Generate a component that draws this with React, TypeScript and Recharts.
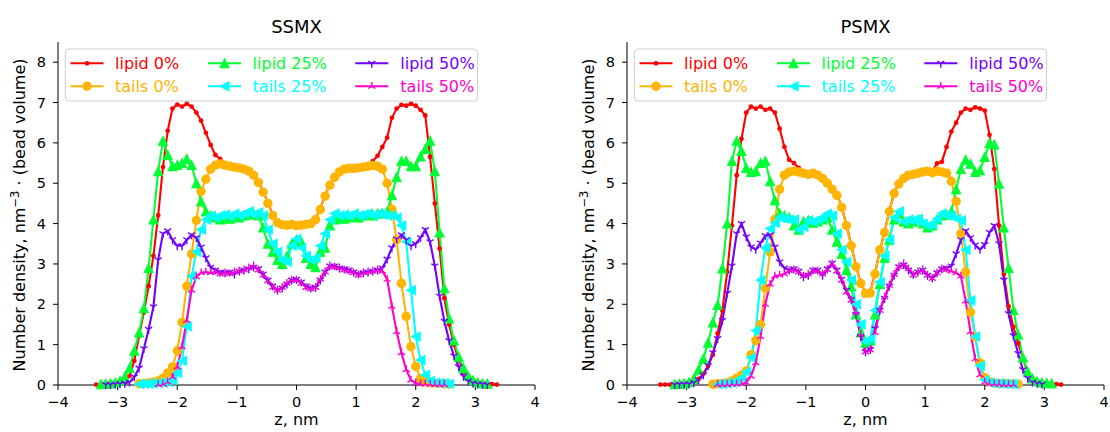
import React from 'react';
import { LineChart, Line, XAxis, YAxis } from 'recharts';

const _ = null;

// bin centres along the membrane normal, nm
const z = [
  -3.44, -3.36, -3.28, -3.2, -3.12, -3.04, -2.96, -2.88,
  -2.8, -2.72, -2.64, -2.56, -2.48, -2.4, -2.32, -2.24,
  -2.16, -2.08, -2, -1.92, -1.84, -1.76, -1.68, -1.6,
  -1.52, -1.44, -1.36, -1.28, -1.2, -1.12, -1.04, -0.96,
  -0.88, -0.8, -0.72, -0.64, -0.56, -0.48, -0.4, -0.32,
  -0.24, -0.16, -0.08, 0, 0.08, 0.16, 0.24, 0.32,
  0.4, 0.48, 0.56, 0.64, 0.72, 0.8, 0.88, 0.96,
  1.04, 1.12, 1.2, 1.28, 1.36, 1.44, 1.52, 1.6,
  1.68, 1.76, 1.84, 1.92, 2, 2.08, 2.16, 2.24,
  2.32, 2.4, 2.48, 2.56, 2.64, 2.72, 2.8, 2.88,
  2.96, 3.04, 3.12, 3.2, 3.28, 3.36, 3.44,
];

const xTicks = [-4, -3, -2, -1, 0, 1, 2, 3, 4];
const yTicks = [0, 1, 2, 3, 4, 5, 6, 7, 8];
const titles = ['SSMX', 'PSMX'];
const seriesNames = ['lipid 0%', 'tails 0%', 'lipid 25%', 'tails 25%', 'lipid 50%', 'tails 50%'];

// ---- SSMX ----
const ssLipid0 = [
  _, 0.01, 0.01, 0.02, 0.03, 0.04, 0.07, 0.12,
  0.22, 0.6, 1.22, 1.8, 2.45, 3.2, 4.2, 5.4,
  6.3, 6.85, 6.95, 6.9, 6.97, 6.9, 6.75, 6.55,
  6.25, 5.95, 5.7, 5.6, 5.5, 5.45, 5.42, 5.4,
  5.37, 5.3, 5.22, 5.05, 4.8, 4.52, 4.22, 4.03,
  3.98, 3.95, 3.97, 3.96, 3.95, 3.97, 4.02, 4.12,
  4.37, 4.7, 4.97, 5.17, 5.3, 5.36, 5.38, 5.4,
  5.4, 5.42, 5.45, 5.55, 5.68, 5.9, 6.13, 6.62,
  6.85, 6.94, 6.92, 6.97, 6.92, 6.82, 6.68, 5.65,
  4.5, 3.38, 2.15, 1.5, 1.0, 0.62, 0.34, 0.2,
  0.11, 0.06, 0.04, 0.03, 0.02, 0.01, _,
];
const ssTails0 = [
  _, _, _, _, _, _, _, _,
  _, _, 0.03, 0.04, 0.05, 0.07, 0.1, 0.17,
  0.3, 0.45, 0.85, 1.55, 2.45, 3.25, 4.08, 4.8,
  5.1, 5.35, 5.45, 5.48, 5.45, 5.42, 5.4, 5.38,
  5.35, 5.3, 5.2, 5.02, 4.78, 4.5, 4.2, 4.02,
  3.97, 3.96, 3.98, 3.95, 3.96, 3.98, 4.0, 4.1,
  4.35, 4.68, 4.95, 5.15, 5.28, 5.35, 5.37, 5.37,
  5.38, 5.4, 5.42, 5.44, 5.42, 5.35, 5.0, 4.35,
  3.6, 2.52, 1.7, 0.95, 0.46, 0.16, 0.08, 0.06,
  0.05, 0.04, 0.03, 0.02, _, _, _, _,
  _, _, _, _, _, _, _,
];
const ssLipid25 = [
  _, _, 0.02, 0.03, 0.04, 0.06, 0.1, 0.2,
  0.42, 0.85, 1.3, 1.9, 2.9, 4.1, 5.3, 6.05,
  5.7, 5.42, 5.45, 5.5, 5.6, 5.45, 5.0, 4.55,
  4.3, 4.2, 4.15, 4.1, 4.15, 4.12, 4.18, 4.15,
  4.2, 4.22, 4.25, 4.2, 3.9, 3.5, 3.3, 3.1,
  3.0, 3.2, 3.5, 3.6, 3.55, 3.15, 3.0, 2.92,
  3.3, 3.4, 3.95, 4.1, 4.15, 4.12, 4.15, 4.18,
  4.15, 4.2, 4.22, 4.2, 4.25, 4.25, 4.3, 4.7,
  5.15, 5.55, 5.55, 5.42, 5.42, 5.66, 5.85, 6.05,
  5.3, 3.78, 2.4, 1.65, 1.1, 0.7, 0.42, 0.22,
  0.12, 0.06, 0.04, 0.03, _, _, _,
];
const ssTails25 = [
  _, _, _, _, _, _, _, _,
  _, _, 0.02, 0.03, 0.03, 0.04, 0.05, 0.06,
  0.08, 0.12, 0.3, 0.6, 1.45, 2.7, 3.3, 3.85,
  4.1, 4.2, 4.15, 4.2, 4.22, 4.18, 4.25, 4.2,
  4.25, 4.3, 4.22, 4.28, 4.2, 3.85, 3.5, 3.3,
  3.1, 3.05, 3.45, 3.62, 3.4, 3.2, 3.1, 3.15,
  3.45, 3.75, 4.1, 4.25, 4.2, 4.22, 4.2, 4.25,
  4.2, 4.22, 4.25, 4.2, 4.25, 4.22, 4.2, 4.2,
  4.15, 3.95, 3.55, 2.35, 1.2, 0.62, 0.25, 0.1,
  0.06, 0.05, 0.04, 0.03, _, _, _, _,
  _, _, _, _, _, _, _,
];
const ssLipid50 = [
  _, _, _, 0.01, 0.01, 0.02, 0.03, 0.04,
  0.07, 0.2, 0.42, 0.9, 1.38, 1.94, 3.1, 3.75,
  3.82, 3.6, 3.45, 3.45, 3.6, 3.72, 3.65, 3.42,
  3.15, 2.92, 2.85, 2.8, 2.78, 2.8, 2.75, 2.82,
  2.85, 2.88, 2.92, 2.88, 2.75, 2.6, 2.45, 2.35,
  2.4, 2.5, 2.6, 2.62, 2.55, 2.45, 2.4, 2.42,
  2.6, 2.8, 2.95, 2.95, 2.9, 2.88, 2.85, 2.8,
  2.75, 2.78, 2.8, 2.82, 2.85, 2.9, 3.12, 3.4,
  3.62, 3.72, 3.6, 3.45, 3.5, 3.65, 3.85, 3.55,
  2.95, 2.2, 1.58, 1.1, 0.72, 0.45, 0.22, 0.1,
  0.05, 0.03, 0.02, 0.01, _, _, _,
];
const ssTails50 = [
  _, _, _, _, _, _, _, _,
  _, _, _, _, _, _, 0.01, 0.02,
  0.07, 0.2, 0.45, 0.95, 1.6, 2.35, 2.68, 2.78,
  2.8, 2.78, 2.8, 2.75, 2.78, 2.76, 2.8, 2.82,
  2.85, 2.9, 2.95, 2.85, 2.72, 2.58, 2.42, 2.35,
  2.42, 2.52, 2.6, 2.6, 2.52, 2.42, 2.38, 2.42,
  2.62, 2.8, 2.95, 2.92, 2.9, 2.85, 2.82, 2.78,
  2.72, 2.78, 2.8, 2.82, 2.85, 2.82, 2.62, 1.95,
  1.32, 0.8, 0.38, 0.12, 0.05, 0.03, 0.02, 0.02,
  0.01, 0.01, 0.01, _, _, _, _, _,
  _, _, _, _, _, _, _,
];

// ---- PSMX ----
const psLipid0 = [
  0.01, 0.01, 0.01, 0.02, 0.02, 0.03, 0.05, 0.08,
  0.15, 0.28, 0.47, 0.75, 1.28, 1.85, 2.8, 3.95,
  5.2, 6.1, 6.75, 6.9, 6.85, 6.9, 6.82, 6.85,
  6.75, 6.35, 5.9, 5.58, 5.5, 5.38, 5.28, 5.24,
  5.26, 5.21, 5.13, 5.02, 4.87, 4.72, 4.42, 3.97,
  3.47, 2.95, 2.53, 2.28, 2.3, 2.77, 3.33, 3.8,
  4.32, 4.76, 5.0, 5.13, 5.21, 5.23, 5.26, 5.29,
  5.31, 5.3, 5.49, 5.53, 5.9, 6.28, 6.5, 6.75,
  6.85, 6.82, 6.88, 6.85, 6.8, 6.2, 5.35, 3.95,
  2.75, 1.95, 1.44, 1.03, 0.66, 0.32, 0.16, 0.08,
  0.05, 0.04, 0.03, 0.02, 0.01, _, _,
];
const psTails0 = [
  _, _, _, _, _, _, _, _,
  _, _, _, 0.02, 0.03, 0.04, 0.06, 0.1,
  0.17, 0.25, 0.35, 0.75, 1.1, 1.5, 2.4, 3.3,
  4.1, 4.85, 5.2, 5.28, 5.3, 5.28, 5.25, 5.22,
  5.25, 5.2, 5.12, 5.0, 4.85, 4.7, 4.4, 3.95,
  3.45, 2.93, 2.52, 2.27, 2.28, 2.75, 3.35, 3.78,
  4.3, 4.75, 4.98, 5.12, 5.2, 5.22, 5.25, 5.28,
  5.3, 5.26, 5.3, 5.28, 5.25, 5.05, 4.55, 3.75,
  2.8, 1.8, 1.2, 0.55, 0.18, 0.08, 0.05, 0.04,
  0.04, 0.03, 0.03, 0.02, _, _, _, _,
  _, _, _, _, _, _, _,
];
const psLipid25 = [
  _, _, _, 0.02, 0.03, 0.04, 0.07, 0.15,
  0.38, 0.65, 1.05, 1.55, 1.98, 2.89, 4.0, 5.55,
  6.05, 5.8, 5.38, 5.28, 5.3, 5.5, 5.55, 5.05,
  4.58, 4.25, 4.2, 4.15, 3.95, 3.85, 4.05, 4.08,
  4.02, 4.05, 4.1, 4.15, 3.85, 3.55, 3.25, 2.85,
  2.45, 1.75, 1.3, 1.05, 1.1, 1.75, 2.5, 3.15,
  3.6, 4.1, 4.25, 4.05, 4.0, 4.05, 4.1, 4.0,
  3.9, 3.95, 4.1, 4.2, 4.22, 4.3, 4.85, 5.35,
  5.58, 5.48, 5.28, 5.32, 5.65, 6.0, 5.96, 4.99,
  3.9, 2.9, 1.86, 1.25, 0.68, 0.33, 0.16, 0.09,
  0.06, 0.05, 0.04, _, _, _, _,
];
const psTails25 = [
  _, _, _, _, _, _, _, _,
  _, _, _, _, 0.02, 0.03, 0.04, 0.06,
  0.1, 0.18, 0.33, 0.68, 1.35, 2.6, 3.4, 3.88,
  4.02, 4.15, 4.12, 4.1, 4.1, 3.85, 3.92, 4.08,
  4.05, 4.1, 4.15, 4.25, 4.2, 3.75, 3.35, 3.05,
  2.6, 2.0, 1.5, 1.08, 1.15, 1.85, 2.55, 3.2,
  3.6, 4.15, 4.3, 4.05, 4.1, 4.08, 4.12, 4.0,
  3.95, 3.98, 4.12, 4.25, 4.2, 4.2, 4.12, 4.08,
  3.35, 2.1, 1.2, 0.48, 0.12, 0.06, 0.04, 0.04,
  0.03, 0.03, 0.02, _, _, _, _, _,
  _, _, _, _, _, _, _,
];
const psLipid50 = [
  _, _, _, 0.01, 0.02, 0.02, 0.03, 0.06,
  0.13, 0.25, 0.48, 0.8, 1.15, 1.6, 2.27, 2.95,
  3.75, 4.0, 3.67, 3.42, 3.36, 3.52, 3.7, 3.72,
  3.42, 3.05, 2.9, 2.85, 2.88, 2.82, 2.68, 2.72,
  2.85, 2.85, 2.72, 2.88, 3.02, 2.85, 2.62, 2.35,
  2.12, 1.75, 1.2, 0.82, 0.88, 1.4, 1.85, 2.15,
  2.45, 2.72, 2.93, 2.98, 2.85, 2.74, 2.8, 2.85,
  2.72, 2.65, 2.78, 2.88, 2.9, 2.95, 3.25, 3.6,
  3.82, 3.65, 3.47, 3.36, 3.48, 3.78, 3.95, 3.5,
  2.6, 1.77, 1.22, 0.78, 0.38, 0.17, 0.07, 0.04,
  0.02, _, _, _, _, _, _,
];
const psTails50 = [
  _, _, _, _, _, _, _, _,
  _, _, _, _, 0.01, 0.01, 0.01, 0.02,
  0.02, 0.03, 0.06, 0.22, 0.55, 1.2, 2.0, 2.5,
  2.7, 2.72, 2.75, 2.83, 2.86, 2.8, 2.7, 2.75,
  2.83, 2.82, 2.75, 2.86, 3.0, 2.82, 2.6, 2.3,
  2.1, 1.8, 1.25, 0.82, 0.87, 1.3, 1.85, 2.18,
  2.47, 2.74, 2.93, 3.0, 2.88, 2.72, 2.8, 2.85,
  2.72, 2.64, 2.78, 2.88, 2.86, 2.82, 2.78, 2.7,
  2.08, 1.32, 0.65, 0.25, 0.07, 0.03, 0.02, 0.02,
  0.01, 0.01, 0.01, _, _, _, _, _,
  _, _, _, _, _, _, _,
];

const FONT = "'DejaVu Sans', sans-serif";

const SERIES = [
  { key: 'lipid0', color: '#ff0000', marker: 'point' },
  { key: 'tails0', color: '#ffb400', marker: 'circle' },
  { key: 'lipid25', color: '#00ff33', marker: 'up' },
  { key: 'tails25', color: '#00ffff', marker: 'left' },
  { key: 'lipid50', color: '#7300ff', marker: 'tridown' },
  { key: 'tails50', color: '#ff00cc', marker: 'triup' },
];

const buildRows = (cols: (number | null)[][]) =>
  z.map((v, i) => {
    const row: Record<string, number | null> = { z: v };
    SERIES.forEach((s, k) => (row[s.key] = cols[k][i]));
    return row;
  });

const ssRows = buildRows([ssLipid0, ssTails0, ssLipid25, ssTails25, ssLipid50, ssTails50]);
const psRows = buildRows([psLipid0, psTails0, psLipid25, psTails25, psLipid50, psTails50]);

const fmt = (v: number) => String(v).replace('-', '\u2212');

function markerShape(kind: string, cx: number, cy: number, color: string) {
  const r = 4.4;
  switch (kind) {
    case 'point':
      return <circle cx={cx} cy={cy} r={2.4} fill={color} />;
    case 'circle':
      return <circle cx={cx} cy={cy} r={4.7} fill={color} />;
    case 'up':
      return (
        <path
          d={`M${cx},${cy - r}L${cx - r},${cy + r}L${cx + r},${cy + r}Z`}
          fill={color} stroke={color} strokeWidth={1.2}
        />
      );
    case 'left':
      return (
        <path
          d={`M${cx - r},${cy}L${cx + r},${cy - r}L${cx + r},${cy + r}Z`}
          fill={color} stroke={color} strokeWidth={1.2}
        />
      );
    case 'tridown':
      return (
        <path
          d={`M${cx},${cy}L${cx},${cy + r}M${cx},${cy}L${cx + 0.8 * r},${cy - 0.5 * r}M${cx},${cy}L${cx - 0.8 * r},${cy - 0.5 * r}`}
          stroke={color} strokeWidth={1.4} fill="none"
        />
      );
    default:
      return (
        <path
          d={`M${cx},${cy}L${cx},${cy - r}M${cx},${cy}L${cx + 0.8 * r},${cy + 0.5 * r}M${cx},${cy}L${cx - 0.8 * r},${cy + 0.5 * r}`}
          stroke={color} strokeWidth={1.4} fill="none"
        />
      );
  }
}

const makeDot = (kind: string, color: string) => (props: any) => {
  const { cx, cy, index, value } = props;
  if (value == null || cx == null || cy == null || Number.isNaN(cx) || Number.isNaN(cy)) {
    return <g key={`e-${index}`} />;
  }
  return <g key={`m-${index}`}>{markerShape(kind, cx, cy, color)}</g>;
};

const tickStyle = { fill: '#000', fontSize: 14.5, fontFamily: FONT };

function Panel({ left, rows }: { left: number; rows: Record<string, number | null>[] }) {
  return (
    <div style={{ position: 'absolute', left, top: 0, width: 546, height: 432 }}>
      <LineChart width={546} height={432} data={rows} margin={{ top: 42, right: 11, bottom: 17, left: 0 }}>
        <XAxis
          dataKey="z" type="number" domain={[-4, 4]} ticks={xTicks} interval={0}
          tickFormatter={fmt} height={30} tickSize={5} tickMargin={7}
          stroke="#000" tick={tickStyle}
        />
        <XAxis xAxisId="top" orientation="top" type="number" domain={[-4, 4]} height={0} tick={false} tickLine={false} stroke="#000" />
        <YAxis
          type="number" domain={[0, 8.5]} ticks={yTicks} interval={0}
          width={58} tickSize={5} tickMargin={7} stroke="#000" tick={tickStyle}
        />
        <YAxis yAxisId="right" orientation="right" type="number" domain={[0, 8.5]} width={0} tick={false} tickLine={false} stroke="#000" />
        {SERIES.map((s) => (
          <Line
            key={s.key}
            type="linear"
            dataKey={s.key}
            stroke={s.color}
            strokeWidth={2.1}
            dot={makeDot(s.marker, s.color)}
            activeDot={false}
            isAnimationActive={false}
          />
        ))}
      </LineChart>
    </div>
  );
}

// legend layout, offsets from the plot's left edge
const legCols = [12.5, 150, 297.3];
const legText = [57, 194.6, 342.3];
const legRows = [63.3, 86.3];

function Annotations({ plotLeft, title }: { plotLeft: number; title: string }) {
  const cx = plotLeft + 238.5;
  const yl = plotLeft - 33;
  return (
    <g>
      <text x={cx} y={33} textAnchor="middle" fontSize={18} fill="#000">{title}</text>
      <text x={cx} y={425} textAnchor="middle" fontSize={16} fill="#000">z, nm</text>
      <text x={yl} y={215} textAnchor="middle" fontSize={16} fill="#000" transform={`rotate(-90, ${yl}, 215)`}>
        Number density, nm<tspan dy={-6} fontSize={11.5}>{'\u22123'}</tspan>
        <tspan dy={6}> · (bead volume)</tspan>
      </text>
      <rect x={plotLeft + 7.3} y={49} width={412.3} height={52} rx={4} fill="#fff" fillOpacity={0.8} stroke="#cccccc" strokeWidth={1} />
      {SERIES.map((s, i) => {
        const c = Math.floor(i / 2);
        const r = i % 2;
        const x0 = plotLeft + legCols[c];
        const y0 = legRows[r];
        return (
          <g key={s.key}>
            <line x1={x0} y1={y0} x2={x0 + 33} y2={y0} stroke={s.color} strokeWidth={2.1} />
            {markerShape(s.marker, x0 + 16.5, y0, s.color)}
            <text x={plotLeft + legText[c]} y={y0 + 6} fontSize={16} fill={s.color}>{seriesNames[i]}</text>
          </g>
        );
      })}
    </g>
  );
}

export default function App() {
  return (
    <div style={{ position: 'absolute', left: 0, top: 0, width: 1110, height: 432, background: '#fff', fontFamily: FONT }}>
      <Panel left={0} rows={ssRows} />
      <Panel left={569} rows={psRows} />
      <svg width={1110} height={432} style={{ position: 'absolute', left: 0, top: 0, pointerEvents: 'none', fontFamily: FONT }}>
        <Annotations plotLeft={58} title={titles[0]} />
        <Annotations plotLeft={627} title={titles[1]} />
      </svg>
    </div>
  );
}
